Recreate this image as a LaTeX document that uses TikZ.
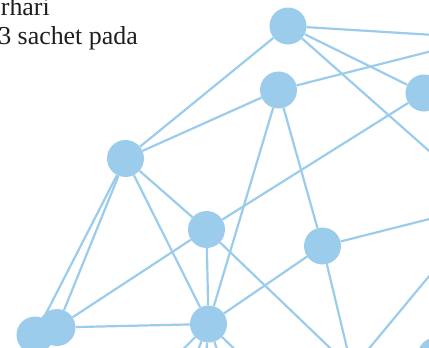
\documentclass[tikz,border=0pt]{standalone}
\usepackage{fontspec}
\setmainfont{Liberation Serif}
\usetikzlibrary{backgrounds}
\definecolor{netblue}{RGB}{156,204,236}
\definecolor{inktext}{RGB}{30,30,30}
\tikzset{
  hub/.style={circle, fill=netblue, draw=none, minimum size=37bp, inner sep=0pt},
  link/.style={draw=netblue, line width=2.2bp},
  caption/.style={inner sep=0pt, text=inktext, font=\fontsize{26}{30}\selectfont}
}
\begin{document}
\begin{tikzpicture}[x=1bp, y=-1bp]
\useasboundingbox (0,0) rectangle (429,348);
\clip (0,0) rectangle (429,348);

% network nodes
\node[hub] (a) at (288,26) {};
\node[hub] (b) at (278.5,90) {};
\node[hub] (c) at (424,93) {};
\node[hub] (d) at (125.5,158.5) {};
\node[hub] (e) at (206.5,229.5) {};
\node[hub] (f) at (322.5,246) {};
\node[hub] (g) at (208.5,324) {};
\node[hub] (h1) at (35,335) {};
\node[hub] (h2) at (57,327.5) {};
\node[hub] (k) at (436,356) {};
% nodes lying just past the edges
\node[hub] (p) at (483,38) {};
\node[hub] (r) at (489,204) {};
\node[hub] (q) at (352,369) {};
\node[hub] (s1) at (146,386) {};
\node[hub] (s2) at (186,380) {};
\node[hub] (s3) at (204,382) {};
\node[hub] (s4) at (228,382) {};
\node[hub] (s5) at (275,388) {};

\begin{scope}[on background layer]
  \draw[link] (a) -- (p);
  \draw[link] (a) -- (c);
  \draw[link] (a) -- (r);
  \draw[link] (a) -- (d);
  \draw[link] (b) -- (p);
  \draw[link] (b) -- (d);
  \draw[link] (b) -- (g);
  \draw[link] (b) -- (f);
  \draw[link] (c) -- (e);
  \draw[link] (d) -- (e);
  \draw[link] (d) -- (g);
  \draw[link] (d) -- (h1);
  \draw[link] (d) -- (h2);
  \draw[link] (e) -- (h2);
  \draw[link] (e) -- (g);
  \draw[link] (e) -- (q);
  \draw[link] (f) -- (g);
  \draw[link] (f) -- (r);
  \draw[link] (f) -- (q);
  \draw[link] (q) -- (r);
  \draw[link] (h2) -- (g);
  \draw[link] (g) -- (s1);
  \draw[link] (g) -- (s2);
  \draw[link] (g) -- (s3);
  \draw[link] (g) -- (s4);
  \draw[link] (g) -- (s5);
\end{scope}

% text lines at the top left
\node[caption, anchor=base east] (t1) at (50,15) {rhari};
\node[caption, anchor=base east] (t2) at (138,44) {3 sachet pada};
\end{tikzpicture}
\end{document}
